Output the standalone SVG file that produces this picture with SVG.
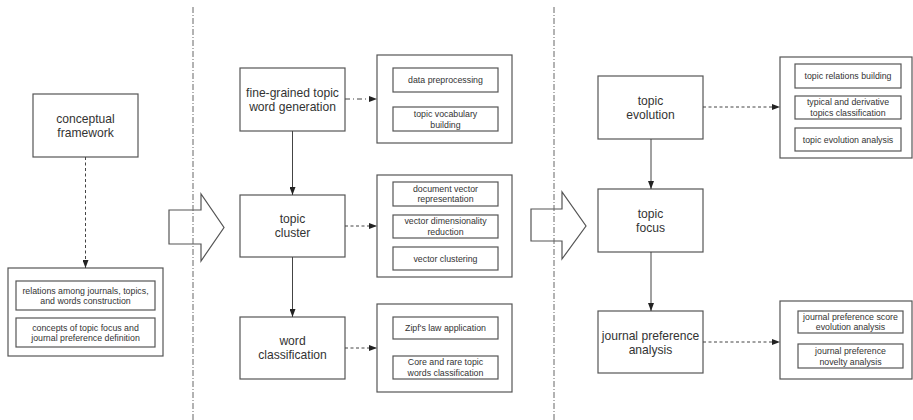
<svg xmlns="http://www.w3.org/2000/svg" width="913" height="420" viewBox="0 0 913 420">
<defs>
<marker id="ah" viewBox="0 0 8 6" refX="8" refY="3" markerWidth="8" markerHeight="6" markerUnits="userSpaceOnUse" orient="auto">
<path d="M0,0 L8,3 L0,6 Z" fill="#222"/>
</marker>
<style>
rect{fill:#fff;stroke:#555;stroke-width:1.2}
.t{font-family:"Liberation Sans",Arial,sans-serif;font-size:12.1px;fill:#333;text-anchor:middle;dominant-baseline:central}
.s{font-family:"Liberation Sans",Arial,sans-serif;font-size:8.8px;fill:#333;text-anchor:middle;dominant-baseline:central}
.c{stroke:#444;stroke-width:1;fill:none;marker-end:url(#ah)}
.dash{stroke-dasharray:3,2.5}
.dd{stroke-dasharray:5,3,1,3}
.sep{stroke:#666;stroke-width:1;stroke-dasharray:6,2,1,2;fill:none}
.big{fill:#fff;stroke:#555;stroke-width:1.2}
</style>
</defs>
<rect x="0" y="0" width="913" height="420" style="fill:#fff;stroke:none"/>

<g id="conceptual-framework">
<rect x="33" y="94" width="105" height="63"/>
<text class="t" x="85.5" y="119">conceptual</text>
<text class="t" x="85.5" y="133">framework</text>
</g>
<g id="conceptual-details">
<rect x="8" y="268" width="155" height="88"/>
<rect x="16" y="281" width="139" height="29"/>
<text class="s" x="85.5" y="290.5">relations among journals, topics,</text>
<text class="s" x="85.5" y="301">and words construction</text>
<rect x="16" y="318" width="139" height="29"/>
<text class="s" x="85.5" y="327.5">concepts of topic focus and</text>
<text class="s" x="85.5" y="338">journal preference definition</text>
</g>

<g id="fine-grained">
<rect x="240" y="68" width="105" height="63"/>
<text class="t" x="292.5" y="93">fine-grained topic</text>
<text class="t" x="292.5" y="107">word generation</text>
</g>
<g id="fine-grained-details">
<rect x="377" y="55" width="135" height="88"/>
<rect x="393" y="68" width="105" height="24"/>
<text class="s" x="445.5" y="80">data preprocessing</text>
<rect x="393" y="107" width="105" height="24"/>
<text class="s" x="445.5" y="114">topic vocabulary</text>
<text class="s" x="445.5" y="124.5">building</text>
</g>

<g id="topic-cluster">
<rect x="240" y="195" width="105" height="62"/>
<text class="t" x="292.5" y="219">topic</text>
<text class="t" x="292.5" y="233">cluster</text>
</g>
<g id="topic-cluster-details">
<rect x="377" y="175" width="135" height="102"/>
<rect x="393" y="182" width="105" height="24"/>
<text class="s" x="445.5" y="188.5">document vector</text>
<text class="s" x="445.5" y="199">representation</text>
<rect x="393" y="215" width="105" height="23"/>
<text class="s" x="445.5" y="221">vector dimensionality</text>
<text class="s" x="445.5" y="231.5">reduction</text>
<rect x="393" y="247" width="105" height="23"/>
<text class="s" x="445.5" y="258.5">vector clustering</text>
</g>

<g id="word-classification">
<rect x="240" y="317" width="105" height="62"/>
<text class="t" x="292.5" y="341">word</text>
<text class="t" x="292.5" y="355">classification</text>
</g>
<g id="word-classification-details">
<rect x="377" y="304" width="135" height="88"/>
<rect x="393" y="317" width="105" height="22"/>
<text class="s" x="445.5" y="328">Zipf's law application</text>
<rect x="393" y="356" width="105" height="23"/>
<text class="s" x="445.5" y="362">Core and rare topic</text>
<text class="s" x="445.5" y="372.5">words classification</text>
</g>

<g id="topic-evolution">
<rect x="598" y="76" width="105" height="63"/>
<text class="t" x="650.5" y="101">topic</text>
<text class="t" x="650.5" y="115">evolution</text>
</g>
<g id="topic-evolution-details">
<rect x="780" y="57" width="132" height="101"/>
<rect x="795" y="64" width="106" height="24"/>
<text class="s" x="848" y="76">topic relations building</text>
<rect x="795" y="96" width="106" height="23"/>
<text class="s" x="848" y="102">typical and derivative</text>
<text class="s" x="848" y="112.5">topics classification</text>
<rect x="795" y="128" width="106" height="23"/>
<text class="s" x="848" y="139.5">topic evolution analysis</text>
</g>

<g id="topic-focus">
<rect x="598" y="189" width="105" height="63"/>
<text class="t" x="650.5" y="214">topic</text>
<text class="t" x="650.5" y="228">focus</text>
</g>

<g id="journal-preference">
<rect x="598" y="311" width="105" height="62"/>
<text class="t" x="650.5" y="336">journal preference</text>
<text class="t" x="650.5" y="350">analysis</text>
</g>
<g id="journal-preference-details">
<rect x="780" y="301" width="132" height="78"/>
<rect x="798" y="311" width="105" height="22"/>
<text class="s" x="850.5" y="317">journal preference score</text>
<text class="s" x="850.5" y="327">evolution analysis</text>
<rect x="798" y="344" width="105" height="24"/>
<text class="s" x="850.5" y="351">journal preference</text>
<text class="s" x="850.5" y="361.5">novelty analysis</text>
</g>

<g id="stage-arrows">
<polygon class="big" points="169,210 201,210 201,194 224,227.5 201,261 201,244 169,244"/>
<polygon class="big" points="531,209 562,209 562,192 586,226 562,259 562,241 531,241"/>
</g>

<g id="separators">
<line class="sep" x1="193" y1="7" x2="193" y2="420"/>
<line class="sep" x1="554" y1="7" x2="554" y2="420"/>
</g>

<g id="connectors">
<line class="c dash" x1="85.5" y1="157" x2="85.5" y2="268"/>
<line class="c dd" x1="345" y1="99" x2="377" y2="99"/>
<line class="c dash" x1="345" y1="226" x2="377" y2="226"/>
<line class="c dash" x1="345" y1="348" x2="377" y2="348"/>
<line class="c" x1="292.5" y1="131" x2="292.5" y2="195"/>
<line class="c" x1="292.5" y1="257" x2="292.5" y2="317"/>
<line class="c dash" x1="703" y1="107" x2="780" y2="107"/>
<line class="c" x1="651" y1="139" x2="651" y2="189"/>
<line class="c" x1="651" y1="252" x2="651" y2="311"/>
<line class="c dash" x1="703" y1="342" x2="780" y2="342"/>
</g>
</svg>
